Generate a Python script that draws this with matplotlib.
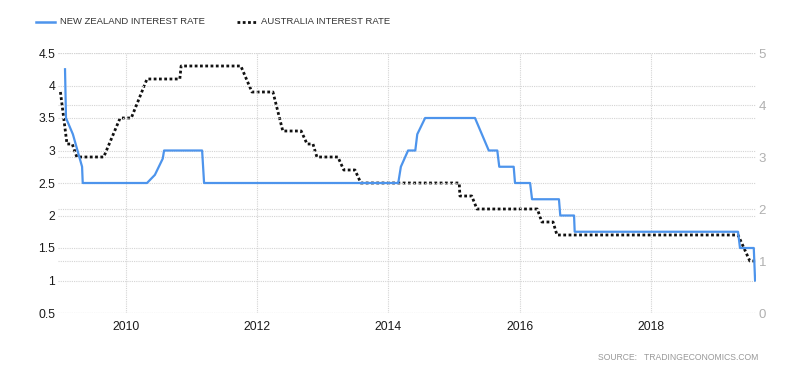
import matplotlib
matplotlib.use("Agg")
import matplotlib.pyplot as plt
from matplotlib.lines import Line2D

plt.rcParams['font.family'] = ['Liberation Sans', 'DejaVu Sans']

# New Zealand interest rate (left axis), x in decimal years
nz_t = [2009.07, 2009.085, 2009.19, 2009.33, 2009.34, 2010.32, 2010.44, 2010.56,
        2010.58, 2011.16, 2011.19, 2014.15, 2014.19, 2014.30, 2014.41, 2014.44,
        2014.56, 2015.32, 2015.53, 2015.66, 2015.69, 2015.91, 2015.93, 2016.16,
        2016.19, 2016.60, 2016.62, 2016.83, 2016.84, 2019.33, 2019.36, 2019.57,
        2019.59]
nz_v = [4.25, 3.5, 3.25, 2.75, 2.5, 2.5, 2.625, 2.875,
        3.0, 3.0, 2.5, 2.5, 2.75, 3.0, 3.0, 3.25,
        3.5, 3.5, 3.0, 3.0, 2.75, 2.75, 2.5, 2.5,
        2.25, 2.25, 2.0, 2.0, 1.75, 1.75, 1.5, 1.5,
        1.0]

# Australia interest rate (right axis)
au_t = [2009.0, 2009.10, 2009.18, 2009.25, 2009.66, 2009.91, 2010.08, 2010.32,
        2010.82, 2010.84, 2011.75, 2011.92, 2012.24, 2012.39, 2012.67, 2012.76,
        2012.85, 2012.91, 2013.23, 2013.32, 2013.49, 2013.58, 2015.08, 2015.09,
        2015.27, 2015.35, 2016.27, 2016.34, 2016.51, 2016.57, 2019.33, 2019.51,
        2019.59]
au_v = [4.25, 3.25, 3.25, 3.0, 3.0, 3.75, 3.75, 4.5,
        4.5, 4.75, 4.75, 4.25, 4.25, 3.5, 3.5, 3.25,
        3.25, 3.0, 3.0, 2.75, 2.75, 2.5, 2.5, 2.25,
        2.25, 2.0, 2.0, 1.75, 1.75, 1.5, 1.5, 1.0,
        1.0]

left_ticks = [0.5, 1, 1.5, 2, 2.5, 3, 3.5, 4, 4.5]
left_labels = ['0.5', '1', '1.5', '2', '2.5', '3', '3.5', '4', '4.5']
right_ticks = [0, 1, 2, 3, 4, 5]
right_labels = ['0', '1', '2', '3', '4', '5']
x_ticks = [2010, 2012, 2014, 2016, 2018]
x_labels = ['2010', '2012', '2014', '2016', '2018']

BLUE = '#4d94ec'
GRID = '#d4d4d4'

fig = plt.figure(figsize=(8.05, 3.70), dpi=100)
ax = fig.add_axes([58/805, 1-313/370, (756-58)/805, (313-53)/370])
ax2 = ax.twinx()

ax.set_xlim(2008.963, 2019.604)
ax.set_ylim(0.5, 4.5)
ax2.set_ylim(0, 5)

for a in (ax, ax2):
    for s in a.spines.values():
        s.set_visible(False)

ax.set_xticks(x_ticks)
ax.set_xticklabels(x_labels)
ax.set_yticks(left_ticks)
ax.set_yticklabels(left_labels)
ax2.set_yticks(right_ticks)
ax2.set_yticklabels(right_labels)

ax.tick_params(axis='both', length=0, labelsize=8.7, labelcolor='#1a1a1a')
ax.tick_params(axis='y', pad=2)
ax.tick_params(axis='x', pad=6)
ax2.tick_params(axis='y', length=0, labelsize=9.5, labelcolor='#b0b0b0', pad=2)

ax.grid(True, axis='both', color=GRID, linestyle=(0, (1, 1)), linewidth=0.8)
ax2.grid(True, axis='y', color=GRID, linestyle=(0, (1, 1)), linewidth=0.8)
ax.set_axisbelow(True)
ax2.set_axisbelow(True)

ax.plot(nz_t, nz_v, color=BLUE, linewidth=1.6, zorder=3)
ax2.plot(au_t, au_v, color='#111111', linewidth=2.0, linestyle=(0, (1, 0.9)), zorder=3)
ax.set_zorder(ax2.get_zorder() + 1)
ax.patch.set_visible(False)

# Legend
fig.add_artist(Line2D([36/805, 55/805], [1-22/370, 1-22/370], color=BLUE, linewidth=1.8))
fig.text(60/805, 1-22/370, 'NEW ZEALAND INTEREST RATE', fontsize=6.8, color='#333333',
         va='center', ha='left')
fig.add_artist(Line2D([237/805, 256/805], [1-22/370, 1-22/370], color='#111111',
                      linewidth=2.0, linestyle=(0, (1, 0.9))))
fig.text(261/805, 1-22/370, 'AUSTRALIA INTEREST RATE', fontsize=6.8, color='#333333',
         va='center', ha='left')

fig.text(758/805, 1-357/370, 'SOURCE:   TRADINGECONOMICS.COM', fontsize=6.2,
         color='#999999', ha='right', va='center')

fig.savefig('out.png', dpi=100)
